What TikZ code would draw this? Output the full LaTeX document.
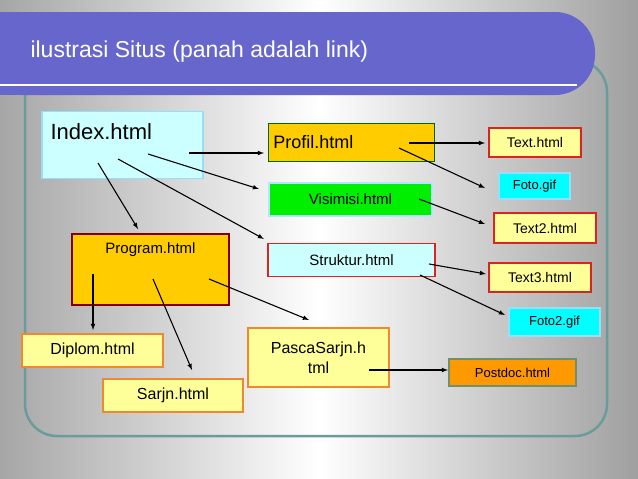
\documentclass[tikz,border=0pt]{standalone}
\usepackage{fontspec}
\setmainfont{Liberation Sans}
\definecolor{barc}{HTML}{6666CC}
\definecolor{framec}{HTML}{6A9C9C}
\definecolor{lcyan}{HTML}{CCFFFF}
\definecolor{lyel}{HTML}{FFFF99}
\definecolor{gold}{HTML}{FFCC00}
\definecolor{redb}{HTML}{DD2222}
\definecolor{orb}{HTML}{EE8833}
\definecolor{postf}{HTML}{FF9900}
\definecolor{postb}{HTML}{6F8F6F}
\definecolor{cyanf}{HTML}{00FFFF}
\definecolor{greenf}{HTML}{00EE00}
\tikzset{
  bx/.style={draw, line width=1.3pt, inner sep=0pt},
  lnk/.style={-latex, line width=1.1pt},
  fs/.style={font=\fontsize{#1}{#1}\selectfont}
}
\begin{document}
\begin{tikzpicture}[x=1pt,y=-1pt]
\useasboundingbox (0,0) rectangle (638,479);
\shade[shading angle=60, left color=gray!70, right color=gray!75, middle color=white] (0,0) rectangle (638,479);
\draw[framec, line width=2.5pt, rounded corners=32pt] (25,60) rectangle (607,436);
\fill[barc, rounded corners=40pt] (-20,12) rectangle (595,95);
\fill[barc] (0,12) rectangle (40,95);
\draw[white, line width=2pt] (0,85) -- (577,85);
\node[anchor=west, white, fs=23] (title) at (27,52) {ilustrasi Situs (panah adalah link)};
% nodes
\node[bx, draw=cyan!40, fill=lcyan, minimum width=161pt, minimum height=67pt] (idx) at (122.5,145) {};
\node[anchor=west, fs=22] (idxt) at (47,132) {Index.html};
\node[bx, draw=green!40!black, line width=0.8pt, fill=gold, minimum width=166pt, minimum height=38pt, anchor=west, fs=18, text width=160pt] (prof) at (268,142) {\hspace*{2pt}Profil.html};
\node[bx, draw=cyan!30, fill=greenf, minimum width=163pt, minimum height=33pt, fs=15] (vis) at (350.5,199.5) {Visimisi.html};
\node[bx, draw=redb, fill=lcyan, minimum width=167pt, minimum height=33pt, fs=15] (str) at (351.5,260) {Struktur.html};
\node[bx, draw=red!50!black, fill=gold, minimum width=157pt, minimum height=71pt] (prog) at (150.5,269.5) {};
\node[fs=15] (progt) at (150.5,250) {Program.html};
\node[bx, draw=redb, fill=lyel, minimum width=92pt, minimum height=29pt, fs=14] (t1) at (535,142.5) {Text.html};
\node[bx, draw=cyan!40, fill=cyanf, minimum width=71pt, minimum height=26pt, fs=13] (foto) at (534.5,186) {Foto.gif};
\node[bx, draw=redb, fill=lyel, minimum width=102pt, minimum height=30pt, fs=14] (t2) at (545,228) {Text2.html};
\node[bx, draw=redb, fill=lyel, minimum width=102pt, minimum height=29pt, fs=14] (t3) at (540,277.5) {Text3.html};
\node[bx, draw=cyan!40, fill=cyanf, minimum width=91pt, minimum height=28pt, fs=13] (foto2) at (554.5,322) {Foto2.gif};
\node[bx, draw=orb, fill=lyel, minimum width=141pt, minimum height=33pt, fs=16] (dip) at (92.5,350.5) {Diplom.html};
\node[bx, draw=orb, fill=lyel, minimum width=140pt, minimum height=33pt, fs=16] (sar) at (173,395.5) {Sarjn.html};
\node[bx, draw=orb, fill=lyel, minimum width=141pt, minimum height=59pt, fs=16, align=center] (pas) at (318.5,357.5) {PascaSarjn.h\\[4pt]tml};
\node[bx, draw=postb, fill=postf, minimum width=127pt, minimum height=27pt, fs=13] (post) at (512.5,372.5) {Postdoc.html};
% link points
\coordinate (a1) at (189,153); \coordinate (b1) at (264,153);
\coordinate (a2) at (148,154); \coordinate (b2) at (259,189);
\coordinate (a3) at (118,159); \coordinate (b3) at (264,239);
\coordinate (a4) at (98,163);  \coordinate (b4) at (138,229);
\coordinate (a5) at (409,143); \coordinate (b5) at (485,143);
\coordinate (a6) at (399,148); \coordinate (b6) at (485,188);
\coordinate (a7) at (419,199); \coordinate (b7) at (485,224);
\coordinate (a8) at (429,264); \coordinate (b8) at (486,274);
\coordinate (a9) at (420,275); \coordinate (b9) at (505,315);
\coordinate (a10) at (93,274); \coordinate (b10) at (93,330);
\coordinate (a11) at (153,279); \coordinate (b11) at (192,370);
\coordinate (a12) at (209,279); \coordinate (b12) at (309,320);
\coordinate (a13) at (369,370); \coordinate (b13) at (448,370);
\foreach \i in {1,...,13} \draw[lnk] (a\i) -- (b\i);
\end{tikzpicture}
\end{document}
